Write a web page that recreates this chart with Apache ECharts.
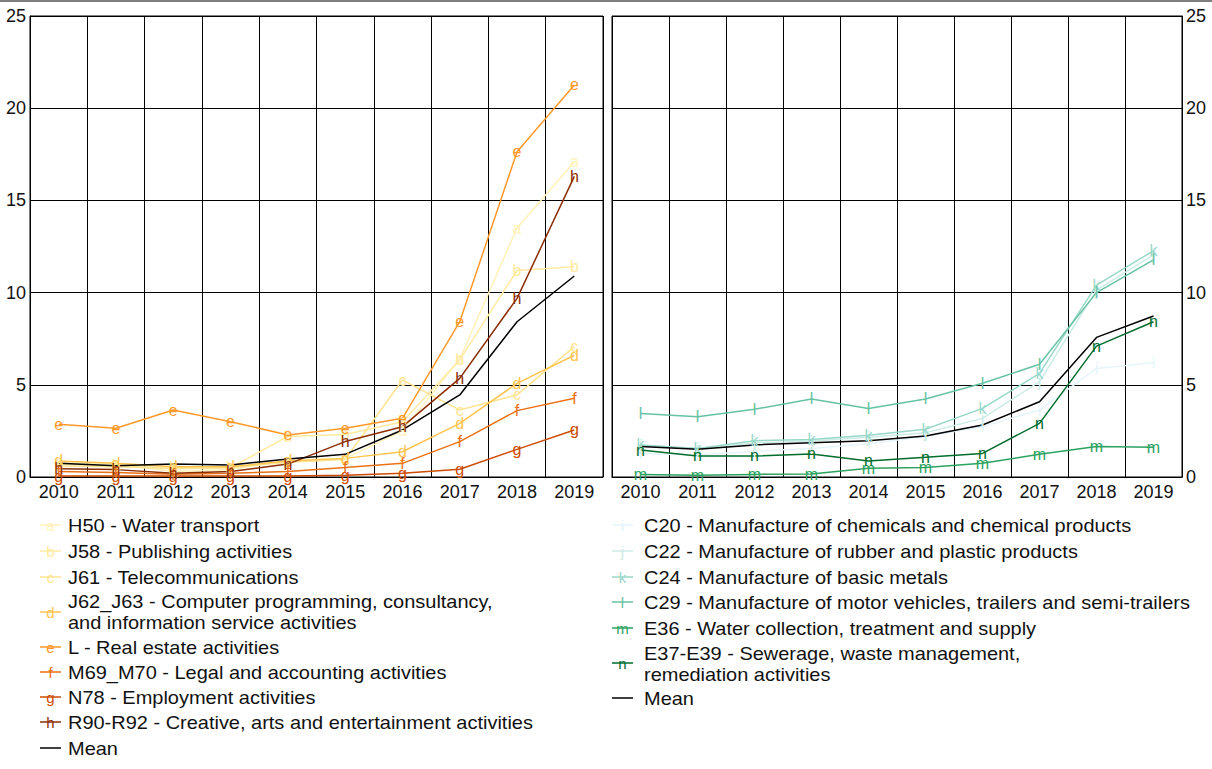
<!DOCTYPE html>
<html>
<head>
<meta charset="utf-8">
<script src="https://cdn.jsdelivr.net/npm/echarts@6/dist/echarts.min.js"></script>
<style>
  html, body { margin: 0; padding: 0; background: #fff; }
  #chart { width: 1212px; height: 769px; }
</style>
</head>
<body>
<div id="chart"></div>
<script>
// Years on the horizontal axis of both panels
const years = ['2010', '2011', '2012', '2013', '2014', '2015', '2016', '2017', '2018', '2019'];
const yTickMin = 0, yTickMax = 25, yTickStep = 5;

// Service sectors (left panel)
const H50 = [0.80, 0.70, 0.30, 0.40, 0.90, 1.00, 2.50, 6.40, 13.50, 17.10];
const J58 = [0.70, 0.60, 0.50, 0.50, 2.20, 2.30, 3.00, 6.35, 11.20, 11.40];
const J61 = [0.60, 0.55, 0.45, 0.50, 0.80, 0.95, 5.26, 3.63, 4.45, 7.07];
const J62_J63 = [0.87, 0.74, 0.56, 0.56, 0.87, 1.01, 1.37, 2.91, 5.08, 6.60];
const L = [2.86, 2.64, 3.63, 3.00, 2.28, 2.64, 3.18, 8.42, 17.64, 21.26];
const M69_M70 = [0.30, 0.25, 0.15, 0.20, 0.30, 0.52, 0.74, 1.92, 3.60, 4.27];
const N78 = [0.05, 0.05, 0.05, 0.05, 0.05, 0.10, 0.20, 0.42, 1.50, 2.55];
const R90_R92 = [0.45, 0.40, 0.20, 0.30, 0.70, 1.92, 2.73, 5.35, 9.69, 16.30];
const meanServices = [0.74, 0.61, 0.70, 0.65, 0.98, 1.23, 2.55, 4.45, 8.42, 10.90];

// Industry and utility sectors (right panel)
const C20 = [1.28, 1.19, 1.40, 1.55, 1.80, 2.19, 2.73, 3.63, 5.89, 6.20];
const C22 = [1.70, 1.55, 1.85, 1.95, 2.15, 2.40, 3.18, 5.17, 10.14, 12.04];
const C24 = [1.74, 1.55, 1.97, 2.04, 2.26, 2.59, 3.72, 5.62, 10.41, 12.27];
const C29 = [3.45, 3.27, 3.67, 4.23, 3.72, 4.23, 5.08, 6.11, 10.00, 11.77];
const E36 = [0.14, 0.10, 0.14, 0.16, 0.47, 0.51, 0.74, 1.23, 1.65, 1.61];
const E37_E39 = [1.46, 1.14, 1.14, 1.25, 0.87, 1.07, 1.28, 2.91, 7.10, 8.42];
const meanIndustry = [1.65, 1.50, 1.74, 1.86, 1.97, 2.22, 2.82, 4.08, 7.57, 8.73];

const leftNames = [
  'H50 - Water transport',
  'J58 - Publishing activities',
  'J61 - Telecommunications',
  'J62_J63 - Computer programming, consultancy,\nand information service activities',
  'L - Real estate activities',
  'M69_M70 - Legal and accounting activities',
  'N78 - Employment activities',
  'R90-R92 - Creative, arts and entertainment activities',
  'Mean'
];
const leftData = [H50, J58, J61, J62_J63, L, M69_M70, N78, R90_R92, meanServices];
const leftLetters = ['a', 'b', 'c', 'd', 'e', 'f', 'g', 'h', ''];
const leftColors = ['#fff2b8', '#ffeaa0', '#fee391', '#fec44f', '#fe9929', '#ec7014', '#cc4c02', '#8c2d04', '#000000'];

const rightNames = [
  'C20 - Manufacture of chemicals and chemical products',
  'C22 - Manufacture of rubber and plastic products',
  'C24 - Manufacture of basic metals',
  'C29 - Manufacture of motor vehicles, trailers and semi-trailers',
  'E36 - Water collection, treatment and supply',
  'E37-E39 - Sewerage, waste management,\nremediation activities',
  'Mean'
];
const rightData = [C20, C22, C24, C29, E36, E37_E39, meanIndustry];
const rightLetters = ['i', 'j', 'k', 'l', 'm', 'n', ''];
const rightColors = ['#e5f5f9', '#ccece6', '#99d8c9', '#66c2a4', '#2ca25f', '#006d2c', '#000000'];

const FONT = 'Liberation Sans, Arial, sans-serif';

function makeSeries(name, data, color, letter, idx) {
  return {
    name: name,
    type: 'line',
    xAxisIndex: idx,
    yAxisIndex: idx,
    data: data,
    symbol: 'circle',
    symbolSize: 0,
    silent: true,
    lineStyle: { color: color, width: 1.5 },
    itemStyle: { color: color },
    label: {
      show: letter !== '',
      position: 'inside',
      formatter: letter,
      color: color,
      fontSize: 16,
      fontFamily: FONT
    },
    emphasis: { disabled: true }
  };
}

const series = [];
leftData.forEach((d, i) => series.push(makeSeries(leftNames[i], d, leftColors[i], leftLetters[i], 0)));
rightData.forEach((d, i) => series.push(makeSeries(rightNames[i], d, rightColors[i], rightLetters[i], 1)));

// Key below each panel: short line with the series letter, then the (slightly widened) name
function legendGraphics(names, colors, letters, rows, x0, textX) {
  const els = [];
  names.forEach((n, i) => {
    const r = rows[i];
    els.push({
      type: 'line', silent: true,
      shape: { x1: x0, y1: r.sym, x2: x0 + 21, y2: r.sym },
      style: { stroke: colors[i], lineWidth: 1.5 }
    });
    if (letters[i]) {
      els.push({
        type: 'text', silent: true,
        x: x0 + 10.5, y: r.sym,
        style: { text: letters[i], fill: colors[i], font: '15px ' + FONT, align: 'center', verticalAlign: 'middle' }
      });
    }
    els.push({
      type: 'text', silent: true,
      x: textX, y: r.text,
      scaleX: 1.11,
      style: { text: n, fill: '#111', font: '18px ' + FONT, align: 'left', verticalAlign: 'top', lineHeight: 21 }
    });
  });
  return els;
}

const leftRows = [
  { sym: 525, text: 515 }, { sym: 551, text: 541 }, { sym: 577, text: 567 },
  { sym: 612, text: 591 }, { sym: 647, text: 637 }, { sym: 672, text: 662 },
  { sym: 697, text: 687 }, { sym: 722, text: 712 }, { sym: 748, text: 738 }
];
const rightRows = [
  { sym: 525, text: 515 }, { sym: 551, text: 541 }, { sym: 577, text: 567 },
  { sym: 602, text: 592 }, { sym: 628, text: 618 }, { sym: 663, text: 643 },
  { sym: 698, text: 688 }
];

const graphics = [
  { type: 'line', silent: true, shape: { x1: 0, y1: 1, x2: 1212, y2: 1 }, style: { stroke: '#000', lineWidth: 1 } }
].concat(
  legendGraphics(leftNames, leftColors, leftLetters, leftRows, 40, 68),
  legendGraphics(rightNames, rightColors, rightLetters, rightRows, 612, 644)
);

function xAxisCfg(idx) {
  return {
    type: 'category',
    gridIndex: idx,
    data: years,
    boundaryGap: true,
    axisLine: { show: true, lineStyle: { color: '#000', width: 1 } },
    axisTick: { show: false },
    axisLabel: { color: '#111', fontSize: 18, fontFamily: FONT, margin: 6, interval: 0 },
    splitLine: { show: true, interval: 0, lineStyle: { color: '#000', width: 1 } }
  };
}
function yAxisCfg(idx, pos) {
  return {
    type: 'value',
    gridIndex: idx,
    position: pos,
    min: yTickMin, max: yTickMax, interval: yTickStep,
    axisLine: { show: true, lineStyle: { color: '#000', width: 1 } },
    axisTick: { show: false },
    axisLabel: { color: '#111', fontSize: 18, fontFamily: FONT, margin: 4 },
    splitLine: { show: true, lineStyle: { color: '#000', width: 1 } }
  };
}

const chart = echarts.init(document.getElementById('chart'), null, { renderer: 'svg' });
chart.setOption({
  animation: false,
  backgroundColor: '#fff',
  textStyle: { fontFamily: FONT },
  grid: [
    { left: 30, top: 16, width: 573, height: 461, show: true, borderColor: '#000', borderWidth: 1, backgroundColor: 'transparent' },
    { left: 612, top: 16, width: 570, height: 461, show: true, borderColor: '#000', borderWidth: 1, backgroundColor: 'transparent' }
  ],
  xAxis: [xAxisCfg(0), xAxisCfg(1)],
  yAxis: [yAxisCfg(0, 'left'), yAxisCfg(1, 'right')],
  series: series,
  graphic: graphics
});
</script>
</body>
</html>
